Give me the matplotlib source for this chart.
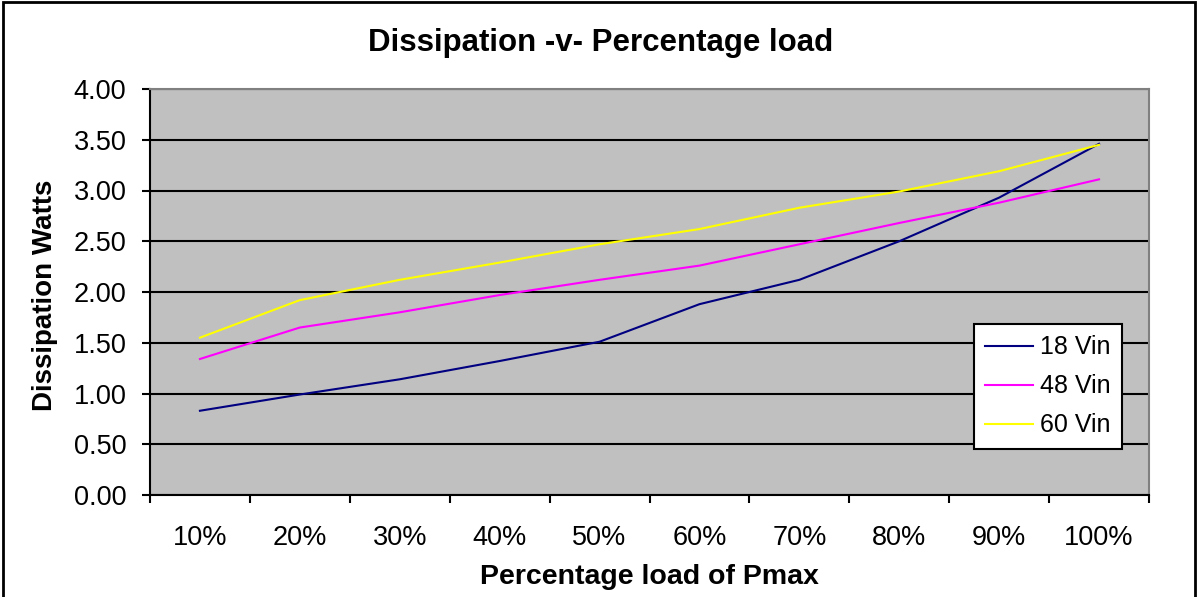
#!/usr/bin/env python3
"""Dissipation vs percentage load, Excel-style line chart."""

import matplotlib
matplotlib.use("Agg")
import matplotlib.pyplot as plt
from matplotlib.patches import Rectangle

load_labels = ["10%", "20%", "30%", "40%", "50%", "60%", "70%", "80%", "90%", "100%"]
vin_18 = [0.83, 0.99, 1.14, 1.32, 1.51, 1.88, 2.12, 2.50, 2.93, 3.46]
vin_48 = [1.34, 1.65, 1.80, 1.97, 2.12, 2.26, 2.47, 2.68, 2.88, 3.11]
vin_60 = [1.55, 1.92, 2.12, 2.29, 2.47, 2.62, 2.83, 2.99, 3.19, 3.45]
y_ticks = [0.0, 0.5, 1.0, 1.5, 2.0, 2.5, 3.0, 3.5, 4.0]

W, H = 1199, 597
plt.rcParams["font.family"] = ["Liberation Sans", "DejaVu Sans"]

fig = plt.figure(figsize=(W / 100, H / 100), dpi=100)
fig.patch.set_facecolor("white")

# plot area in pixel terms: x 150..1149, y 89..495
ax = fig.add_axes([150 / W, 1 - 495 / H, 999 / W, 406 / H])
ax.set_facecolor("#C0C0C0")

x = list(range(len(load_labels)))
ax.plot(x, vin_18, color="#000080", lw=1.5, label="18 Vin", zorder=3)
ax.plot(x, vin_48, color="#FF00FF", lw=1.5, label="48 Vin", zorder=3)
ax.plot(x, vin_60, color="#FFFF00", lw=1.5, label="60 Vin", zorder=3)

ax.set_xlim(-0.5, len(load_labels) - 0.5)
ax.set_ylim(0, 4)
ax.set_yticks(y_ticks)
ax.set_yticklabels([f"{v:.2f}" for v in y_ticks])
ax.set_xticks(x)
ax.set_xticklabels(load_labels)
ax.set_xticks([i - 0.5 for i in range(len(load_labels) + 1)], minor=True)
ax.tick_params(axis="x", which="major", length=0, pad=21.5, labelsize=19.5)
ax.tick_params(axis="x", which="minor", length=6, width=1.5, direction="out")
ax.tick_params(axis="y", length=6, width=1.5, direction="out", pad=11, labelsize=19.5)

ax.grid(axis="y", color="black", lw=1.5, zorder=1)
ax.set_axisbelow(True)

for side in ("left", "bottom"):
    ax.spines[side].set_color("black")
    ax.spines[side].set_linewidth(1.5)
for side in ("top", "right"):
    ax.spines[side].set_color("#808080")
    ax.spines[side].set_linewidth(1.5)

fig.text(601 / W, 1 - 43 / H, "Dissipation -v- Percentage load", ha="center", va="center",
         fontsize=22.5, fontweight="bold")
fig.text(649 / W, 1 - 577 / H, "Percentage load of Pmax", ha="center", va="center",
         fontsize=20.5, fontweight="bold")
fig.text(45 / W, 1 - 295 / H, "Dissipation Watts", ha="center", va="center",
         rotation=90, fontsize=20, fontweight="bold")

leg = ax.legend(loc="upper left", bbox_to_anchor=(974 / W, 1 - 324 / H),
                bbox_transform=fig.transFigure, fontsize=18, fancybox=False,
                framealpha=1, edgecolor="black", handlelength=1.9, handletextpad=0.3,
                borderaxespad=0, labelspacing=0.6, borderpad=0.45)
leg.get_frame().set_linewidth(1.5)

# outer chart border (bottom edge falls off the image)
fig.add_artist(Rectangle((3 / W, -0.05), 1192 / W, 1.05 - 2 / H, transform=fig.transFigure,
                         fill=False, edgecolor="black", lw=2))

fig.savefig("out.png", dpi=100)
plt.close(fig)
